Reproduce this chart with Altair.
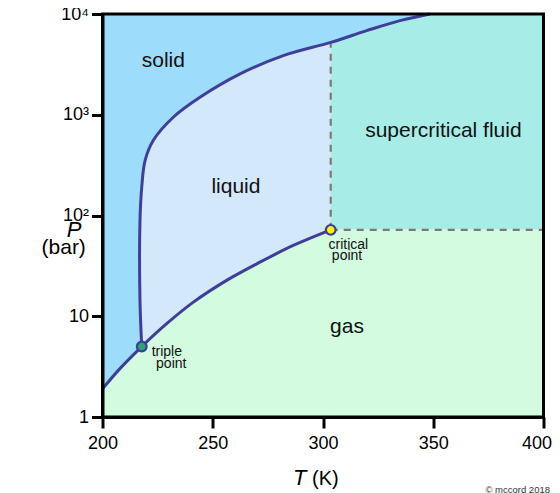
import altair as alt
import pandas as pd

# ---- data ----
# solid-liquid (fusion) curve, from triple point upward
fus_T = [217.8, 217.0, 217.0, 217.8, 219.3, 223.0, 232.1, 244.2, 262.4, 282.0, 303.5, 319.8, 334.9, 348.5]
fus_P = [5.0, 14.3, 88.7, 191, 351, 555, 944, 1489, 2541, 3864, 5224, 6830, 8590, 10000]

# sublimation + vaporization curve, up to the critical point
vap_T = [200, 207.9, 217.8, 229.1, 241.2, 256.3, 271.4, 286.5, 303.5]
vap_P = [1.9, 3.02, 5.0, 8.43, 13.8, 22.7, 34.4, 50.4, 72]

pt_name = ["triple", "critical"]
pt_T = [217.8, 303.5]
pt_P = [5.0, 72]
pt_fill = ["#2AA66E", "#FFF200"]

region_text = ["solid", "liquid", "supercritical fluid", "gas"]
region_T = [227.6, 260.5, 354.6, 310.9]
region_P = [3000, 166, 597, 6.76]

small_text_c = ["critical", "point"]
small_c_T = [311.5, 310.9]
small_c_P = [46.7, 36.0]
small_text_t = ["triple", "point"]
small_t_T = [222.3, 224.3]
small_t_P = [4.0, 3.06]

x_ticks = [200, 250, 300, 350, 400]
y_ticks = [1, 10, 100, 1000, 10000]

T_MIN, T_MAX = 200, 400
P_MIN, P_MAX = 1, 10000
T_CRIT, P_CRIT = 303.5, 72
P_FUS_AT_CRIT = 5224

SOLID = "#9EDCFB"
LIQUID = "#D4E8FC"
SCF = "#A8ECE8"
GAS = "#D2FBDF"
CURVE = "#3F3F98"
FONT = "Liberation Sans"

n_liq = fus_T.index(T_CRIT) + 1
fus = pd.DataFrame({"T": fus_T, "P": fus_P, "i": range(len(fus_T)), "T2": T_MAX})
liq = pd.DataFrame({"T": fus_T[:n_liq], "P": fus_P[:n_liq], "T2": T_CRIT})
vap = pd.DataFrame({"T": vap_T, "P": vap_P, "i": range(len(vap_T)), "P2": P_MIN})
pts = pd.DataFrame({"T": pt_T, "P": pt_P, "c": pt_fill})
regions = pd.DataFrame({"T": region_T, "P": region_P, "t": region_text})
smc = pd.DataFrame({"T": small_c_T, "P": small_c_P, "t": small_text_c})
smt = pd.DataFrame({"T": small_t_T, "P": small_t_P, "t": small_text_t})
gasrect = pd.DataFrame({"T": [T_CRIT], "T2": [T_MAX], "P": [P_MIN], "P2": [P_CRIT]})
dashes = pd.DataFrame({"T": [T_CRIT, T_CRIT], "T2": [T_CRIT, T_MAX],
                       "P": [P_CRIT, P_CRIT], "P2": [P_FUS_AT_CRIT, P_CRIT]})
frame = pd.DataFrame({"T": [T_MIN], "T2": [T_MAX], "P": [P_MIN], "P2": [P_MAX]})
one = pd.DataFrame({"a": [0]})

xscale = alt.Scale(domain=[T_MIN, T_MAX], nice=False, zero=False)
yscale = alt.Scale(type="log", domain=[P_MIN, P_MAX], nice=False)

xaxis = alt.Axis(values=x_ticks, format="d", title=None, grid=False, tickSize=11, tickWidth=3,
                 domainWidth=3, domainColor="black", tickColor="black", labelColor="black",
                 labelFontSize=18, labelPadding=6, labelFont=FONT, zindex=1, labelOverlap=False,
                 labelFlush=False,
                 labelOffset={"condition": {"test": "datum.value == 400", "value": -7}, "value": 0})
yaxis = alt.Axis(values=y_ticks, title=None, grid=False, tickSize=11, tickWidth=3,
                 domainWidth=3, domainColor="black", tickColor="black", labelColor="black",
                 labelFontSize=18, labelPadding=3, labelFont=FONT, zindex=1, labelOverlap=False,
                 labelFlush=False,
                 labelExpr="datum.value == 10000 ? '10⁴' : datum.value == 1000 ? '10³' : datum.value == 100 ? '10²' : datum.value == 10 ? '10' : '1'")

X = lambda f="T": alt.X(f"{f}:Q", scale=xscale, axis=xaxis)
Y = lambda f="P": alt.Y(f"{f}:Q", scale=yscale, axis=yaxis)

background = alt.Chart(frame).mark_rect(color=SOLID).encode(x=X(), x2="T2:Q", y=Y(), y2="P2:Q")
scf_area = alt.Chart(fus).mark_area(orient="horizontal", interpolate="catmull-rom", color=SCF).encode(
    x=alt.X("T:Q", scale=xscale, axis=xaxis, stack=None), y=Y(), x2="T2:Q")
liq_area = alt.Chart(liq).mark_area(orient="horizontal", interpolate="catmull-rom", color=LIQUID).encode(
    x=alt.X("T:Q", scale=xscale, axis=xaxis, stack=None), y=Y(), x2="T2:Q")
gas_area = alt.Chart(vap).mark_area(interpolate="catmull-rom", color=GAS, stroke=GAS,
                                    strokeWidth=1).encode(
    x=X(), y=alt.Y("P:Q", scale=yscale, axis=yaxis, stack=None), y2="P2:Q")
gas_rect = alt.Chart(gasrect).mark_rect(color=GAS, stroke=GAS, strokeWidth=1).encode(
    x=X(), x2="T2:Q", y=Y(), y2="P2:Q")
dash = alt.Chart(dashes).mark_rule(color="#7a7a7a", strokeWidth=2.2, strokeDash=[7, 6]).encode(
    x=X(), x2="T2:Q", y=Y(), y2="P2:Q")
fus_line = alt.Chart(fus).mark_line(interpolate="catmull-rom", color=CURVE, strokeWidth=3).encode(
    x=X(), y=Y(), order="i:Q")
vap_line = alt.Chart(vap).mark_line(interpolate="catmull-rom", color=CURVE, strokeWidth=3).encode(
    x=X(), y=Y(), order="i:Q")
border = alt.Chart(frame).mark_rect(fillOpacity=0, stroke="black", strokeWidth=3).encode(
    x=X(), x2="T2:Q", y=Y(), y2="P2:Q")
points = alt.Chart(pts).mark_circle(size=95, opacity=1, stroke=CURVE, strokeWidth=2.2).encode(
    x=X(), y=Y(), fill=alt.Fill("c:N", scale=None))

region_labels = alt.Chart(regions).mark_text(font=FONT, fontSize=21, align="center",
                                             baseline="alphabetic", color="#111").encode(
    x=X(), y=Y(), text="t:N")
crit_labels = alt.Chart(smc).mark_text(font=FONT, fontSize=14, align="center",
                                       baseline="alphabetic", color="#111").encode(
    x=X(), y=Y(), text="t:N")
trip_labels = alt.Chart(smt).mark_text(font=FONT, fontSize=14, align="left",
                                       baseline="alphabetic", color="#111").encode(
    x=X(), y=Y(), text="t:N")

def label(txt, x, y, size, style="normal", align="left", color="black"):
    return alt.Chart(one).mark_text(text=txt, font=FONT, fontSize=size, fontStyle=style,
                                    align=align, baseline="alphabetic", color=color).encode(
        x=alt.value(x), y=alt.value(y))

titles = [
    label("T", 190.5, 471, 22, "italic"),
    label("(K)", 209.5, 471, 20),
    label("P", -35.8, 223, 22, "italic"),
    label("(bar)", -38.8, 240, 21, align="center"),
    label("© mccord 2018", 447.5, 479, 9.5, align="right", color="#333"),
]

chart = alt.layer(
    background, scf_area, liq_area, gas_area, gas_rect, dash, fus_line, vap_line, border, points,
    region_labels, crit_labels, trip_labels, *titles
).properties(
    width=441, height=403,
    autosize=alt.AutoSizeParams(type="none"),
    padding={"left": 94.5, "top": 6, "right": 8.5, "bottom": 76},
).configure(font=FONT).configure_view(stroke=None)

chart.save("out.html", embed_options={"renderer": "svg", "actions": False})
